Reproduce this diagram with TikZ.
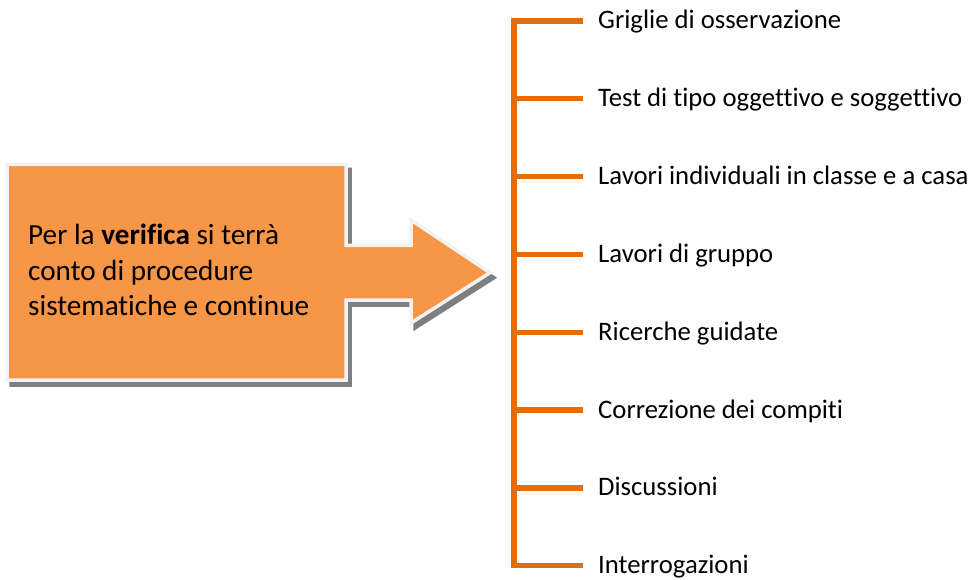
\documentclass[tikz,border=0pt]{standalone}
\usepackage{fontspec}
\setmainfont{Carlito}[Ligatures=NoCommon]
\definecolor{boxorange}{HTML}{F79646}
\definecolor{lineorange}{HTML}{E46C0A}
\definecolor{rimgray}{HTML}{F2F2F2}
\definecolor{shadowgray}{HTML}{7F7F7F}
\tikzset{
  calloutpath/.style={insert path={(7,164.5) -- (346,164.5) -- (346,245.5) -- (411,245.5) -- (411,220) -- (490,272.7) -- (411,323) -- (411,300) -- (346,300) -- (346,380) -- (7,380) -- cycle}},
  branch/.style={draw=lineorange, line width=5.4pt},
  lbl/.style={anchor=base west, inner sep=0pt, font=\fontsize{26.7}{32}\selectfont},
  maintxt/.style={anchor=west, inner sep=0pt, align=left, font=\fontsize{29.2}{35.8}\selectfont}
}
\begin{document}
\begin{tikzpicture}[x=1pt,y=-1pt]
\useasboundingbox (0,0) rectangle (972,580);
% shadow
\path[fill=shadowgray, draw=shadowgray, line width=3.5pt, line join=miter, shift={(4,5)}, calloutpath];
% callout
\path[fill=boxorange, draw=rimgray, line width=3.5pt, line join=miter, calloutpath];
\node[maintxt] (main) at (28,270) {Per la \textbf{verifica} si terrà\\conto di procedure\\sistematiche e continue};
% bracket
\foreach \i/\t in {1/Griglie di osservazione, 2/Test di tipo oggettivo e soggettivo, 3/Lavori individuali in classe e a casa, 4/Lavori di gruppo, 5/Ricerche guidate, 6/Correzione dei compiti, 7/Discussioni, 8/Interrogazioni}{
  \pgfmathsetmacro\yy{21+(\i-1)*77.8}
  \coordinate (j\i) at (514,\yy);
  \coordinate (e\i) at (583,\yy);
  \node[lbl] (l\i) at (598,\yy+8) {\t};
  \draw[branch] (j\i) -- (e\i);
}
\draw[branch, line cap=rect] (j1) -- (j8);
\end{tikzpicture}
\end{document}
